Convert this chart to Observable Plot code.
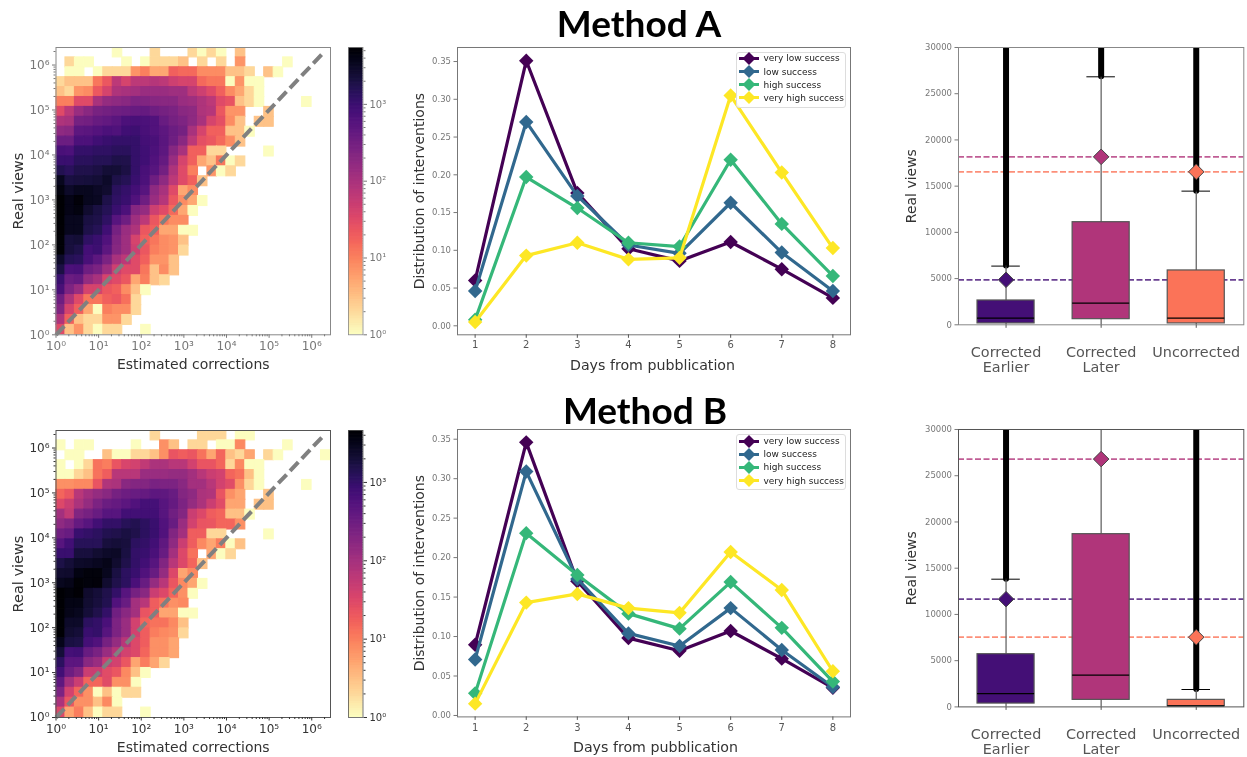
<!DOCTYPE html>
<html><head><meta charset="utf-8">
<script src="https://cdn.jsdelivr.net/npm/d3@7"></script>
<script src="https://cdn.jsdelivr.net/npm/@observablehq/plot@0.6"></script>
<style>
html,body{margin:0;padding:0;background:#fff;overflow:hidden}
#page{position:relative;width:1247px;height:757px;font-family:"DejaVu Sans",sans-serif;filter:blur(.45px)}
#page svg.plot{position:absolute;overflow:visible}
.title{position:absolute;font-family:"Lato",sans-serif;font-weight:700;font-size:37px;color:#000;line-height:46px;white-space:nowrap;transform:translateX(-50%)}
.legend{position:absolute;left:735.5px;width:108px;height:54px;background:rgba(255,255,255,.85);border:1px solid #ddd;border-radius:3px;font-size:9px;color:#222}
.legend div{position:absolute;left:2px;height:13px;display:flex;align-items:center;white-space:nowrap}
.legend svg{margin-right:5px}
</style></head><body><div id="page"></div>
<script>
// ---- heat map counts, rows listed from top (highest views) to bottom, columns from the left
const heatA = [
[0,0,0,0,0,0,1,0,0,0,2,0,0,0,2,1,2,1,0,3],
[0,2,1,1,0,0,0,1,0,1,2,2,2,3,0,2,0,2,0,7,0,0,0,0,1],
[0,1,1,0,1,2,2,2,7,10,5,5,18,15,15,8,8,8,3,3,2,0,3,1],
[2,3,3,3,12,22,65,38,65,65,75,65,45,38,38,15,12,12,1,7,1,1],
[3,2,7,8,21,38,85,100,110,135,135,135,120,120,65,45,30,18,8,5,2,1],
[10,10,30,30,100,150,170,190,235,220,200,190,190,135,120,85,65,30,24,3,2,1,0,0,0,0,1],
[30,65,135,190,270,300,330,360,390,410,330,285,250,190,170,85,75,22,7,7,0,0,3],
[85,100,285,315,390,440,510,690,750,690,620,375,285,235,170,100,38,27,8,3,0,3,3],
[170,190,480,510,590,690,650,880,950,750,620,480,360,285,100,38,18,18,3,3,1],
[360,360,690,690,880,1000,1130,1130,1130,820,750,510,330,190,65,27,22,15,8,3],
[750,690,1130,1130,1250,1250,1380,1380,1130,880,690,480,200,100,18,18,2,2,0,0,0,0,1],
[1000,1000,1380,1380,1500,1500,1800,1700,1130,880,620,410,135,38,18,5,3,12,1,2],
[1600,1380,1700,1700,1900,2300,2300,1900,1130,750,550,300,85,30,10,0,7,1,2],
[3400,2000,2100,2200,2300,2900,1800,1500,1000,690,330,170,65,30,18,3],
[4300,2900,3400,3400,3000,2600,1380,1130,820,550,170,100,30,5,8],
[5500,3800,4700,3400,3200,1800,1250,1000,620,330,135,75,22,8,5,1],
[5500,3800,4300,2600,2000,1500,1000,690,200,150,45,30,15,5,1],
[5500,3400,3400,2000,1800,1250,550,330,120,65,22,12,8,8],
[5300,3400,3400,1800,1500,880,285,135,85,22,18,5,5,1,1],
[5100,2200,2300,1250,1000,620,220,120,38,18,12,8,7,3],
[5100,2100,1800,820,950,480,200,120,45,22,10,8,7,2],
[2900,1500,1380,750,480,250,100,65,30,18,7,7,3],
[1900,690,750,330,250,120,45,30,30,12,3,8,3],
[1000,360,410,150,100,38,30,22,5,10,3,2],
[750,235,135,38,38,22,18,8,3,1],
[330,85,30,12,12,18,21,13,2],
[220,38,18,5,1,10,8,8,2],
[85,18,3,2,2,7,7,2],
[30,3,7,2,1,2,2,0,0,1]
];
const heatB = [
[0,0,0,0,0,0,0,0,0,0,2,0,0,0,0,2,2,2,0,1,1],
[1,0,1,1,0,0,0,0,1,0,0,7,3,0,2,2,0,1,1,8,0,0,0,0,1],
[0,1,1,0,0,3,1,1,2,2,3,7,22,18,21,12,5,15,3,2,5,0,2,1,0,0,0,0,1],
[1,0,1,2,12,10,22,33,38,55,85,85,65,65,38,22,22,15,2,8,1,1],
[1,1,2,3,12,18,65,65,65,120,120,120,135,135,100,65,45,38,15,12,3,1],
[7,7,8,8,22,75,85,170,190,190,235,220,220,170,100,100,65,38,27,7,2,1,0,0,0,0,1],
[15,21,65,100,135,170,250,300,330,360,420,410,330,190,150,85,75,22,7,5,0,0,3],
[30,45,85,135,220,315,360,440,550,690,690,480,360,220,135,85,45,27,5,5,0,3,3],
[100,55,200,250,330,480,480,750,750,750,750,480,285,190,45,30,18,15,3,3,1],
[150,200,360,480,750,1000,1000,1250,1380,1130,880,550,330,120,38,22,21,15,15,7],
[285,330,880,1000,1130,1380,1500,1700,1500,1130,880,550,200,100,18,18,2,2,0,0,0,0,1],
[480,750,1250,1250,1250,1800,1900,1800,1130,1000,750,410,150,45,18,8,5,10,1,3],
[880,880,1800,1800,2100,2400,2500,1700,1000,880,620,330,100,30,12,0,5,1,2],
[1600,1900,2400,2500,2800,3100,2200,1500,1000,750,480,200,65,30,15,3],
[2200,2300,3500,3800,3800,2900,1700,1130,880,550,330,135,30,5,8],
[2900,3100,4300,3800,4000,2200,1500,1130,620,330,135,65,21,8,5,1],
[4600,3800,4400,2300,1900,1500,1000,480,250,170,45,30,15,7,1],
[4600,3400,3400,2100,1800,1380,550,330,100,65,18,12,7,8],
[4600,3100,2900,1900,1500,1000,285,170,100,22,18,5,5,1,1],
[4600,2400,2400,1130,1000,620,220,120,38,15,12,12,8,3],
[4500,2100,1900,880,950,480,220,120,38,18,10,8,7,2],
[3000,1700,1600,690,550,250,135,65,30,18,7,7,5],
[1900,690,750,330,235,120,65,38,30,15,7,7,5],
[1130,440,440,170,120,45,38,21,5,10,5,2],
[750,300,200,45,45,27,21,8,3,1],
[410,100,45,15,15,27,7,7,1],
[220,38,15,7,1,3,1,2,2],
[85,21,7,7,3,8,1],
[30,5,10,3,1,2,2,0,0,1]
];
// ---- line charts
const days = [1,2,3,4,5,6,7,8];
const seriesNames = ["very low success","low success","high success","very high success"];
const seriesColors = ["#440154","#31688e","#35b779","#fde725"];
const linesA = [
[.060,.351,.176,.102,.086,.111,.075,.037],
[.046,.270,.172,.107,.096,.163,.097,.046],
[.008,.197,.156,.110,.105,.220,.135,.066],
[.005,.093,.110,.088,.090,.305,.203,.103]];
const linesB = [
[.0895,.346,.170,.098,.082,.107,.072,.035],
[.071,.309,.173,.104,.088,.136,.083,.036],
[.028,.231,.178,.129,.110,.169,.111,.043],
[.015,.143,.154,.136,.130,.207,.159,.056]];
// ---- box plots
const groups = ["Corrected\nEarlier","Corrected\nLater","Uncorrected"];
const groupColors = ["#440f76","#b0357a","#fb7358"];
const boxA = {q1:[150,610,150], med:[720,2340,720], q3:[2630,11100,5880], whisk:[6350,26830,14460], mean:[4870,18170,16550]};
const boxB = {q1:[360,760,70], med:[1440,3430,100], q3:[5700,18680,760], whisk:[13810,40000,1880], mean:[11650,26800,7540]};

const page = document.getElementById("page");
const FF = "DejaVu Sans";
function put(svg,left,top){ svg.style.left=left+"px"; svg.style.top=top+"px"; svg.classList.add("plot"); page.appendChild(svg); }
const pow = n => "10"+"⁰¹²³⁴⁵⁶".charAt(n);
const decades = [0,1,2,3,4,5,6];
const minorLog = max => decades.flatMap(d=>[2,3,4,5,6,7,8,9].map(m=>m*10**d)).filter(v=>v<max);

function heat(rows,top,bottom,vmax,tickColor,frameColor){
  const xLog=6.44,yLog=6.39,N=29;
  const cells=[];
  rows.forEach((r,j)=>r.forEach((c,i)=>{ if(c>0) cells.push({i,j:N-1-j,c}); }));
  const xMax=10**xLog,yMax=10**yLog, mt=10, mb=45, h=bottom-top;
  const p=Plot.plot({width:335,height:h+mt+mb,marginLeft:55.5,marginRight:5,marginTop:mt,marginBottom:mb,
    style:{fontFamily:FF,background:"transparent"},
    x:{type:"log",domain:[1,xMax],axis:null},y:{type:"log",domain:[1,yMax],axis:null},
    color:{type:"log",scheme:"magma",reverse:true,domain:[1,vmax]},
    marks:[
      Plot.rect(cells,{x1:d=>10**(d.i*xLog/N),x2:d=>10**((d.i+1)*xLog/N),y1:d=>10**(d.j*yLog/N),y2:d=>10**((d.j+1)*yLog/N),fill:d=>d.c,stroke:d=>d.c,strokeWidth:1.1,clip:"frame"}),
      Plot.line([1,1.75e6],{x:d=>d,y:d=>d,stroke:"#808080",strokeWidth:4,strokeDasharray:"12 5",strokeLinecap:"butt"}),
      Plot.frame({stroke:frameColor,strokeWidth:1}),
      Plot.axisX({ticks:decades.map(d=>10**d),tickFormat:(d)=>pow(Math.round(Math.log10(d))),label:null,color:tickColor,tickSize:3.5,tickPadding:3,fontSize:12}),
      Plot.axisY({ticks:decades.map(d=>10**d),tickFormat:(d)=>pow(Math.round(Math.log10(d))),label:null,color:tickColor,tickSize:3.5,tickPadding:3,fontSize:12}),
      Plot.axisX({ticks:minorLog(xMax),tickFormat:()=>"",label:null,color:tickColor,tickSize:2}),
      Plot.axisY({ticks:minorLog(yMax),tickFormat:()=>"",label:null,color:tickColor,tickSize:2}),
      Plot.text(["Estimated corrections"],{text:d=>d,frameAnchor:"bottom",dy:34,fontSize:14,fill:"#333"}),
      Plot.text(["Real views"],{text:d=>d,frameAnchor:"left",textAnchor:"middle",dx:-37.5,rotate:-90,fontSize:14.5,fill:"#333"})
    ]});
  put(p,0,top-mt);
  // colour bar
  const steps=d3.range(0,120).map(k=>10**(k/120*Math.log10(vmax)));
  const ratio=10**(Math.log10(vmax)/120);
  const cb=Plot.plot({width:60,height:h+mt+mb,marginLeft:5,marginRight:40.5,marginTop:mt,marginBottom:mb,
    style:{fontFamily:FF,background:"transparent"},
    x:{domain:[0,1],axis:null},y:{type:"log",domain:[1,vmax],axis:null},
    color:{type:"log",scheme:"magma",reverse:true,domain:[1,vmax]},
    marks:[
      Plot.rect(steps,{x1:()=>0,x2:()=>1,y1:d=>d,y2:d=>Math.min(d*ratio,vmax),fill:d=>d,stroke:d=>d,strokeWidth:1,clip:"frame"}),
      Plot.frame({stroke:frameColor,strokeWidth:.8}),
      Plot.axisY({anchor:"right",ticks:[1,10,100,1000],tickFormat:d=>pow(Math.round(Math.log10(d))),label:null,color:tickColor,tickSize:3.5,tickPadding:3,fontSize:10}),
      Plot.axisY({anchor:"right",ticks:minorLog(vmax),tickFormat:()=>"",label:null,color:tickColor,tickSize:2})
    ]});
  put(cb,342.5,top-mt);
}

function lines(vals,top,bottom,yDomain,yTicks,labelDx){
  const left=457,right=850,ox=405,mt=10,mb=45,h=bottom-top;
  const marks=[];
  vals.forEach((row,s)=>{
    const rows=row.map((v,k)=>({day:days[k],v}));
    marks.push(Plot.line(rows,{x:"day",y:"v",stroke:seriesColors[s],strokeWidth:3.2}));
    marks.push(Plot.dot(rows,{x:"day",y:"v",fill:seriesColors[s],symbol:"diamond2",r:6.5}));
  });
  const p=Plot.plot({width:right-ox+5,height:h+mt+mb,marginLeft:left-ox,marginRight:5,marginTop:mt,marginBottom:mb,
    style:{fontFamily:FF,background:"transparent"},
    x:{domain:[0.655,8.345],axis:null},y:{domain:yDomain,axis:null},
    marks:[
      ...marks,
      Plot.frame({stroke:"#777",strokeWidth:1}),
      Plot.axisX({ticks:days,tickFormat:d=>String(d),label:null,color:"#555",tickSize:3.5,tickPadding:3,fontSize:10}),
      Plot.axisY({ticks:yTicks,tickFormat:d=>d.toFixed(2),label:null,color:"#777",tickSize:3.5,tickPadding:3,fontSize:8.5}),
      Plot.text(["Days from pubblication"],{text:d=>d,frameAnchor:"bottom",dy:35,dx:labelDx,fontSize:14.2,fill:"#333"}),
      Plot.text(["Distribution of interventions"],{text:d=>d,frameAnchor:"left",textAnchor:"middle",dx:-38,rotate:-90,fontSize:14,fill:"#333"})
    ]});
  put(p,ox,top-mt);
  const lg=document.createElement("div"); lg.className="legend"; lg.style.top=(top+5)+"px";
  seriesNames.forEach((n,s)=>{
    const d=document.createElement("div"); d.style.top=(-0.8+13.2*s)+"px";
    d.innerHTML=`<svg width="20" height="13"><line x1="0" x2="20" y1="6.5" y2="6.5" stroke="${seriesColors[s]}" stroke-width="3"/><path d="M10 0 L16.5 6.5 L10 13 L3.5 6.5Z" fill="${seriesColors[s]}"/></svg><span>${n}</span>`;
    lg.appendChild(d);
  });
  page.appendChild(lg);
}

function boxes(b,top,bottom,frameColor){
  const left=958,right=1243.3,ox=890,mt=10,mb=55,h=bottom-top;
  const idx=[0,1,2];
  const capped=idx.filter(i=>b.whisk[i]<30000);
  const p=Plot.plot({width:right-ox+3.7,height:h+mt+mb,marginLeft:left-ox,marginRight:3.7,marginTop:mt,marginBottom:mb,
    style:{fontFamily:FF,background:"transparent"},
    x:{domain:[-.5,2.5],axis:null},y:{domain:[0,30000],axis:null},
    marks:[
      Plot.ruleY(idx,{y:i=>b.mean[i],stroke:i=>groupColors[i],strokeOpacity:.8,strokeWidth:1.8,strokeDasharray:"6 2.5"}),
      Plot.ruleX(capped,{x:i=>i,y1:i=>b.whisk[i],y2:()=>1e6,stroke:"#000",strokeWidth:6,strokeLinecap:"round",clip:true}),
      Plot.ruleX(idx,{x:i=>i,y1:()=>0,y2:i=>b.whisk[i],stroke:"#666",strokeWidth:1.3,clip:true}),
      Plot.ruleY(capped,{y:i=>b.whisk[i],x1:i=>i-.15,x2:i=>i+.15,stroke:"#000",strokeWidth:1}),
      Plot.rect(idx,{x1:i=>i-.3,x2:i=>i+.3,y1:i=>b.q1[i],y2:i=>b.q3[i],fill:i=>groupColors[i],stroke:"#555",strokeWidth:1.2}),
      Plot.ruleY(idx,{y:i=>b.med[i],x1:i=>i-.3,x2:i=>i+.3,stroke:"#000",strokeWidth:1.2}),
      Plot.dot(idx,{x:i=>i,y:i=>b.mean[i],fill:i=>groupColors[i],stroke:"#444",strokeWidth:1,symbol:"diamond2",r:7}),
      Plot.frame({stroke:frameColor,strokeWidth:1}),
      Plot.axisX({ticks:idx,tickFormat:i=>groups[i],label:null,color:"#555",tickSize:3.5,tickPadding:18,fontSize:14.4,lineHeight:1.05}),
      Plot.axisY({ticks:[0,5000,10000,15000,20000,25000,30000],tickFormat:d=>String(d),label:null,color:"#777",tickSize:3.5,tickPadding:3,fontSize:8.5}),
      Plot.text(["Real views"],{text:d=>d,frameAnchor:"left",textAnchor:"middle",dx:-47,rotate:-90,fontSize:14,fill:"#333"})
    ]});
  put(p,ox,top-mt);
}

function title(t,cx,top){ const d=document.createElement("div"); d.className="title"; d.textContent=t; d.style.left=cx+"px"; d.style.top=top+"px"; page.appendChild(d); }

heat(heatA,46.7,334,5500,"#777","#888");
heat(heatB,430,717,4600,"#333","#555");
lines(linesA,46.7,334,[-.0119,.3686],[0,.05,.10,.15,.20,.25,.30,.35],-1.5);
lines(linesB,429.3,716.7,[-.0018,.3623],[0,.05,.10,.15,.20,.25,.30,.35],1.5);
boxes(boxA,46.7,324,"#888");
boxes(boxB,429.3,706.7,"#555");
title("Method A",639,0);
title("Method B",645,387);
</script></body></html>
